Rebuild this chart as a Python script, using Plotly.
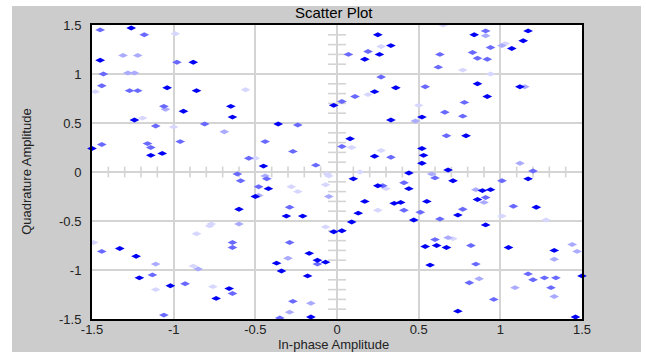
import numpy as np
import plotly.graph_objects as go

# ---- data (In-phase, Quadrature) grouped by marker intensity ----
dark_x = [-1.26, -1.45, -0.88, -1.04, -0.86, -0.94, -0.65, -0.64, -1.24, -0.36, -1.14, -1.07, -1.50, -0.45,
          -0.02, 0.25, 0.33, 0.26, 0.17, 0.23, 0.36, 0.33, 0.84, 1.17, 1.14, 1.07, 0.86, 0.92, 1.12, 0.52,
          0.79, 0.08, 0.23, 0.52, 0.53, 0.52, 0.68, -0.42, -0.50, -0.31, -0.21, -0.60, -1.33, -1.23, -0.17,
          -0.12, -0.07, -0.37, -0.34, -0.18, -0.02, 0.03, -1.21, -1.02, -0.66, -0.74, -0.16, 0.10, 0.25,
          0.44, 0.44, 0.71, 0.89, 0.94, 0.86, 1.17, 0.17, 0.35, 0.39, 0.55, 0.13, 0.09, 0.47, 0.74, 1.22,
          0.91, 0.61, 0.67, 0.54, 1.05, 1.33, 0.57, 1.50, 0.74, 1.46]
dark_y = [1.47, 1.14, 1.12, 0.86, 0.83, 0.62, 0.67, 0.56, 0.53, 0.49, 0.17, 0.19, 0.24, 0.06,
          0.68, 1.40, 1.29, 1.20, 1.15, 0.82, 0.86, 0.53, 1.40, 1.44, 1.34, 1.26, 0.90, 0.77, 0.87, 0.56,
          0.37, 0.34, 0.16, 0.24, 0.17, 0.09, 0.02, -0.17, -0.25, -0.45, -0.45, -0.38, -0.78, -0.86, -0.83,
          -0.90, -0.92, -0.93, -1.01, -1.06, -0.61, -0.60, -1.08, -1.16, -1.19, -1.29, -1.48, -0.07, -0.14,
          -0.01, -0.17, -0.09, -0.19, -0.18, -0.28, -0.07, -0.30, -0.32, -0.31, -0.30, -0.42, -0.51, -0.49, -0.44, -0.36,
          -0.54, -0.75, -0.77, -0.76, -0.77, -0.80, -0.95, -1.06, -1.42, -1.48]

medium_x = [-1.45, -1.18, -0.98, -1.43, -1.44, -1.27, -1.22, -1.06, -1.11, -0.81, -0.24, -1.44, -1.16, -1.14,
            -0.96, -0.44, -0.54, -0.27, -0.13, 0.03, 0.19, 0.07, 0.27, 0.11, 0.91, 0.94, 0.83, 0.86, 0.92,
            0.63, 0.62, 0.54, 0.66, 0.78, 0.77, 0.67, 0.03, 0.33, 1.20, -0.61, -0.59, -0.43, -0.48, -0.29,
            -1.44, -0.64, -0.64, -0.29, -0.12, -1.13, -0.93, -0.64, -0.27, -1.06, -0.35, 0.28, 0.41, 0.60,
            0.91, 1.01, 0.41, 0.51, 0.63, 0.77, 1.08, 0.60, 0.82, 0.85, 1.17, 1.20, 1.27, 1.34, 0.81, 1.31, 0.96]
medium_y = [1.45, 1.40, 1.12, 1.00, 0.88, 0.83, 0.83, 0.67, 0.47, 0.49, 0.48, 0.28, 0.29, 0.25,
            0.31, 0.31, 0.14, 0.21, 0.07, 0.72, 1.23, 1.20, 0.97, 0.77, 1.44, 1.27, 1.22, 1.16, 1.15,
            1.20, 1.07, 0.87, 0.61, 0.71, 0.57, 0.37, 0.26, 0.15, 0.01, -0.02, -0.09, -0.07, -0.15, -0.36,
            -0.81, -0.72, -0.77, -0.72, -0.94, -1.05, -1.14, -1.24, -1.32, -1.46, -1.49, -0.14, -0.11, -0.06,
            -0.26, -0.09, -0.39, -0.41, -0.48, -0.38, -0.35, -0.69, -0.75, -0.94, -1.04, -1.10, -1.08, -1.08, -1.13, -1.18, -1.30]

light_x = [-1.31, -1.22, -1.28, -1.24, -1.05, -0.69, 0.91, 1.01, 1.15, 0.48, 1.12, -0.44, -0.48, -0.05,
           -0.60, -0.30, -1.11, -0.85, -0.16, -0.29, 0.58, 0.85, 0.90, 0.68, 1.44, 1.47, 1.33, 0.87, 1.09, 1.33]
light_y = [1.19, 1.19, 1.01, 1.01, 0.64, 0.41, 1.39, 1.29, 0.87, 0.52, 0.09, -0.04, -0.24, -0.25,
           -0.53, -0.88, -0.94, -0.99, -1.34, -1.43, -0.02, -0.18, -0.31, -0.67, -0.74, -0.81, -0.89, -1.09, -1.18, -1.27]

faint_x = [-0.99, -1.48, -0.56, -1.19, -1.00, -0.50, 0.27, 0.19, 0.65, 1.03, 0.77, 0.94, 0.50, 0.09, 0.27,
           -0.28, -0.24, -0.06, -0.05, -0.07, -0.77, -0.78, -0.86, -1.49, -0.07, -0.88, -1.11, -0.76, 0.14,
           0.30, 0.25, 1.01, 1.28, 0.71]
faint_y = [1.41, 0.82, 0.84, 0.55, 0.46, 0.14, 1.28, 0.79, 1.50, 1.31, 1.04, 1.00, 0.68, 0.25, 0.22,
           -0.15, -0.20, -0.02, -0.04, -0.13, -0.53, -0.55, -0.63, -0.72, -0.56, -0.96, -1.20, -1.17, 0.00,
           -0.17, -0.39, -0.45, -0.49, -0.68]

axis_ticks = [-1.5, -1.0, -0.5, 0.0, 0.5, 1.0, 1.5]
axis_tick_labels = ["-1.5", "-1", "-0.5", "0", "0.5", "1", "1.5"]
minor_step = 0.1

groups = [
    (dark_x, dark_y, "rgb(0,0,245)"),
    (medium_x, medium_y, "rgb(105,105,255)"),
    (light_x, light_y, "rgb(170,170,255)"),
    (faint_x, faint_y, "rgb(214,214,255)"),
]

fig = go.Figure()
for gx, gy, col in reversed(groups):
    fig.add_trace(go.Scatter(
        x=gx, y=gy, mode="markers", cliponaxis=False, showlegend=False,
        marker=dict(symbol="diamond-wide", size=7, color=col, line=dict(width=0)),
    ))

GRID = "rgb(212,212,212)"
shapes = []
# minor ticks on the zero lines
minor = np.round(np.arange(-1.4, 1.4001, minor_step), 2)
half = 0.055
for v in minor:
    if abs(v * 2 - round(v * 2)) < 1e-6:
        continue
    shapes.append(dict(type="line", xref="x", yref="y", x0=v, x1=v, y0=-half, y1=half,
                       line=dict(color=GRID, width=1.6), layer="below"))
    shapes.append(dict(type="line", xref="x", yref="y", x0=-half, x1=half, y0=v, y1=v,
                       line=dict(color=GRID, width=1.6), layer="below"))
# white page strips around the grey panel
for x0, x1, y0, y1 in [(-0.3, 1.3, 1.0646, 1.2), (-0.3, -0.1633, -0.2, 1.2), (1.1204, 1.3, -0.2, 1.2)]:
    shapes.append(dict(type="rect", xref="paper", yref="paper", x0=x0, x1=x1, y0=y0, y1=y1,
                       fillcolor="white", line=dict(width=0), layer="above"))

FONT = "Liberation Sans, Arial, sans-serif"
axis_common = dict(
    range=[-1.5, 1.5], tickvals=axis_ticks, ticktext=axis_tick_labels,
    showgrid=True, gridcolor=GRID, gridwidth=2,
    zeroline=True, zerolinecolor=GRID, zerolinewidth=2,
    showline=True, linecolor="black", linewidth=2, mirror=True,
    ticks="", tickfont=dict(family=FONT, size=13, color="#222222"),
    fixedrange=True, automargin=False,
)

fig.update_layout(
    width=646, height=352,
    margin=dict(l=92, r=64, t=25, b=33, pad=0),
    paper_bgcolor="rgb(204,204,204)", plot_bgcolor="white",
    xaxis=dict(**axis_common, ticklabelstandoff=-3),
    yaxis=dict(**axis_common, ticklabelstandoff=6),
    shapes=shapes,
    annotations=[
        dict(text="Scatter Plot", xref="paper", yref="paper", x=0.493, y=1.043,
             showarrow=False, xanchor="center", yanchor="middle",
             font=dict(family=FONT, size=15, color="black")),
        dict(text="In-phase Amplitude", xref="paper", yref="paper", x=0.493, y=-0.087,
             showarrow=False, xanchor="center", yanchor="middle",
             font=dict(family=FONT, size=13, color="#222222")),
        dict(text="Quadrature Amplitude", xref="paper", yref="paper", x=-0.135, y=0.5,
             showarrow=False, xanchor="center", yanchor="middle", textangle=-90,
             font=dict(family="Liberation Sans Narrow, " + FONT, size=13, color="#222222")),
    ],
)

fig.write_html("out.html", config={"displayModeBar": False},
               post_script="document.body.style.margin='0';")
